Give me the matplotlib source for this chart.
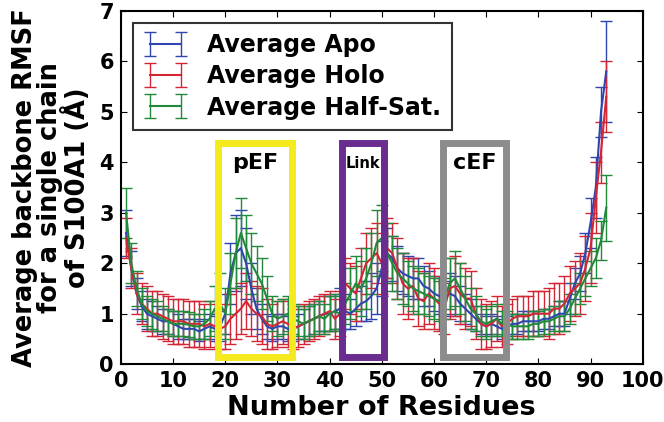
import numpy as np
import matplotlib
matplotlib.use('Agg')
import matplotlib.pyplot as plt
from matplotlib.patches import Rectangle

residues = np.arange(1, 94)

apo = [2.6, 1.9, 1.4, 1.15, 1.0, 0.95, 0.9, 0.85, 0.85, 0.8,
       0.75, 0.7, 0.7, 0.7, 0.65, 0.7, 0.75, 0.7, 0.75, 1.0,
       1.8, 2.2, 2.3, 2.0, 1.5, 1.1, 0.9, 0.75, 0.7, 0.75,
       0.75, 0.7, 0.7, 0.75, 0.8, 0.85, 0.9, 0.95, 1.0, 1.0,
       1.05, 1.1, 1.05, 1.0, 1.1, 1.2, 1.25, 1.35, 1.5, 1.9,
       2.2, 2.1, 1.9, 1.8, 1.75, 1.7, 1.7, 1.55, 1.5, 1.4,
       1.35, 1.3, 1.4, 1.35, 1.2, 1.1, 1.0, 0.9, 0.8, 0.75,
       0.8, 0.75, 0.7, 0.75, 0.8, 0.8, 0.85, 0.85, 0.85, 0.85,
       0.9, 0.9, 0.95, 1.0, 1.0, 1.3, 1.6, 1.8, 2.2, 2.8,
       3.5, 5.0, 5.8]
apo_err = [0.45, 0.35, 0.3, 0.3, 0.3, 0.3, 0.25, 0.25, 0.25, 0.25,
           0.25, 0.2, 0.2, 0.2, 0.2, 0.2, 0.25, 0.25, 0.3, 0.4,
           0.6, 0.75, 0.75, 0.7, 0.5, 0.4, 0.3, 0.25, 0.25, 0.25,
           0.25, 0.25, 0.25, 0.25, 0.3, 0.3, 0.3, 0.3, 0.35, 0.35,
           0.35, 0.4, 0.35, 0.3, 0.35, 0.35, 0.4, 0.45, 0.5, 0.55,
           0.5, 0.45, 0.45, 0.4, 0.4, 0.4, 0.4, 0.4, 0.35, 0.35,
           0.35, 0.35, 0.4, 0.4, 0.35, 0.3, 0.3, 0.25, 0.2, 0.2,
           0.2, 0.2, 0.2, 0.2, 0.2, 0.2, 0.2, 0.2, 0.2, 0.2,
           0.2, 0.2, 0.2, 0.25, 0.25, 0.3, 0.3, 0.35, 0.4, 0.5,
           0.6, 0.5, 1.0]

holo = [2.5, 1.9, 1.4, 1.2, 1.1, 1.0, 1.0, 0.95, 0.9, 0.85,
        0.85, 0.85, 0.8, 0.8, 0.8, 0.75, 0.8, 0.75, 0.7, 0.75,
        0.9, 1.0, 1.1, 1.25, 1.1, 1.0, 0.95, 0.8, 0.75, 0.8,
        0.85, 0.8, 0.7, 0.75, 0.8, 0.85, 0.9, 0.95, 1.0, 1.05,
        0.9, 1.0, 1.6, 1.5, 1.4, 1.7, 2.0, 2.1, 2.2, 2.0,
        2.3, 2.2, 1.9, 1.6, 1.5, 1.55, 1.3, 1.25, 1.4, 1.3,
        1.2, 1.1, 1.5, 1.55, 1.4, 1.3, 1.3, 1.0, 0.8, 0.75,
        0.8, 0.9, 0.75, 0.8, 0.9, 0.95, 0.95, 0.95, 1.0, 1.0,
        1.0, 1.0, 1.1, 1.1, 1.2, 1.4, 1.5, 1.6, 1.9, 2.3,
        3.3, 4.2, 5.3]
holo_err = [0.4, 0.4, 0.4, 0.4, 0.45, 0.45, 0.45, 0.45, 0.45, 0.45,
            0.45, 0.45, 0.45, 0.45, 0.45, 0.45, 0.45, 0.45, 0.4, 0.45,
            0.5, 0.5, 0.5, 0.55, 0.55, 0.55, 0.55, 0.5, 0.45, 0.45,
            0.45, 0.45, 0.4, 0.4, 0.4, 0.4, 0.4, 0.4, 0.4, 0.4,
            0.4, 0.45, 0.5, 0.5, 0.55, 0.6, 0.6, 0.6, 0.6, 0.6,
            0.6, 0.6, 0.6, 0.6, 0.6, 0.55, 0.55, 0.55, 0.6, 0.6,
            0.55, 0.5, 0.6, 0.6, 0.6, 0.6, 0.55, 0.5, 0.5, 0.45,
            0.45, 0.45, 0.4, 0.4, 0.4, 0.4, 0.4, 0.4, 0.45, 0.45,
            0.45, 0.5, 0.5, 0.5, 0.55, 0.55, 0.55, 0.6, 0.65, 0.7,
            0.7, 0.6, 0.7]

half = [3.0, 2.0, 1.5, 1.2, 1.05, 1.0, 0.95, 0.9, 0.85, 0.8,
        0.8, 0.8, 0.78, 0.75, 0.75, 0.8, 0.9, 1.1, 1.2, 1.0,
        1.6, 2.2, 2.6, 2.3, 2.0, 1.8, 1.6, 1.3, 1.0, 0.9,
        0.95, 1.0, 0.9, 0.85, 0.8, 0.85, 0.9, 0.95, 0.9, 1.0,
        1.05, 1.0, 1.2, 1.4, 1.6, 1.5, 1.7, 2.0, 2.4, 2.5,
        2.2, 2.0, 1.8, 1.7, 1.6, 1.5, 1.45, 1.4, 1.35, 1.3,
        1.25, 1.3, 1.6, 1.7, 1.5, 1.3, 1.1, 1.0, 0.85, 0.8,
        0.85, 0.9, 0.8, 0.8, 0.75, 0.75, 0.75, 0.75, 0.8, 0.8,
        0.85, 0.85, 0.9, 0.95, 0.95, 1.1, 1.3, 1.5, 1.7, 1.9,
        2.1, 2.45, 3.1]
half_err = [0.5, 0.4, 0.35, 0.3, 0.3, 0.3, 0.3, 0.25, 0.25, 0.25,
            0.25, 0.25, 0.25, 0.25, 0.25, 0.3, 0.35, 0.45, 0.6, 0.5,
            0.6, 0.7, 0.7, 0.65, 0.6, 0.55, 0.5, 0.45, 0.35, 0.35,
            0.35, 0.35, 0.3, 0.3, 0.3, 0.3, 0.3, 0.3, 0.3, 0.35,
            0.35, 0.35, 0.4, 0.5, 0.55, 0.55, 0.6, 0.6, 0.65, 0.65,
            0.6, 0.55, 0.5, 0.5, 0.45, 0.45, 0.45, 0.4, 0.4, 0.4,
            0.4, 0.4, 0.5, 0.55, 0.5, 0.45, 0.4, 0.35, 0.3, 0.3,
            0.3, 0.3, 0.25, 0.25, 0.25, 0.25, 0.25, 0.25, 0.25, 0.25,
            0.25, 0.25, 0.25, 0.3, 0.3, 0.3, 0.3, 0.3, 0.35, 0.35,
            0.4, 0.38, 0.65]

labels = ['Average Apo', 'Average Holo', 'Average Half-Sat.']
colors = ['#2f45b0', '#d42535', '#23893a']

# regions (start, end, label, colour, fontsize)
regions = [(18.6, 32.8, 'pEF', '#f5ea1e', 16),
           (42.4, 50.4, 'Link', '#6a2d8f', 10.5),
           (61.7, 73.8, 'cEF', '#8c8c8c', 16)]
box_y = (0.14, 4.38)

plt.rcParams['font.family'] = 'DejaVu Sans'
plt.rcParams['font.weight'] = 'bold'

fig = plt.figure(figsize=(6.64, 4.22), dpi=100)
ax = fig.add_axes([0.182, 0.137, 0.786, 0.837])

series = [(apo, apo_err), (holo, holo_err), (half, half_err)]
for (vals, err), lab, col in zip(series, labels, colors):
    ax.errorbar(residues, vals, yerr=err, color=col, lw=1.5, elinewidth=1.0,
                capsize=4, capthick=1.0, label=lab)

for x0, x1, txt, col, fs in regions:
    ax.add_patch(Rectangle((x0, box_y[0]), x1 - x0, box_y[1] - box_y[0],
                           fill=False, edgecolor=col, lw=5, zorder=5))
    ax.text((x0 + x1) / 2, box_y[1] - 0.4, txt, ha='center', va='center',
            fontsize=fs, fontweight='bold', zorder=6)

ax.set_xlim(0, 100)
ax.set_ylim(0, 7)
ax.set_xticks(np.arange(0, 101, 10))
ax.set_yticks(np.arange(0, 8, 1))
ax.tick_params(direction='in', top=True, right=True, labelsize=15, length=4, pad=5)
for lbl in ax.get_xticklabels() + ax.get_yticklabels():
    lbl.set_fontweight('bold')
for s in ax.spines.values():
    s.set_linewidth(1.5)

ax.set_xlabel('Number of Residues', fontsize=19.5, fontweight='bold', labelpad=3)
ax.set_ylabel('Average backbone RMSF\nfor a single chain\nof S100A1 (\u00c5)',
              fontsize=18.5, fontweight='bold', linespacing=0.95)
ax.yaxis.set_label_coords(-0.058, 0.5)

leg = ax.legend(loc='upper left', fontsize=17, frameon=True, fancybox=False,
                edgecolor='black', borderpad=0.45, handlelength=1.9,
                labelspacing=0.3, handletextpad=0.8, borderaxespad=0.5,
                numpoints=2)
leg.get_frame().set_linewidth(1.5)
for t in leg.get_texts():
    t.set_fontweight('bold')

fig.savefig('out.png', dpi=100)
